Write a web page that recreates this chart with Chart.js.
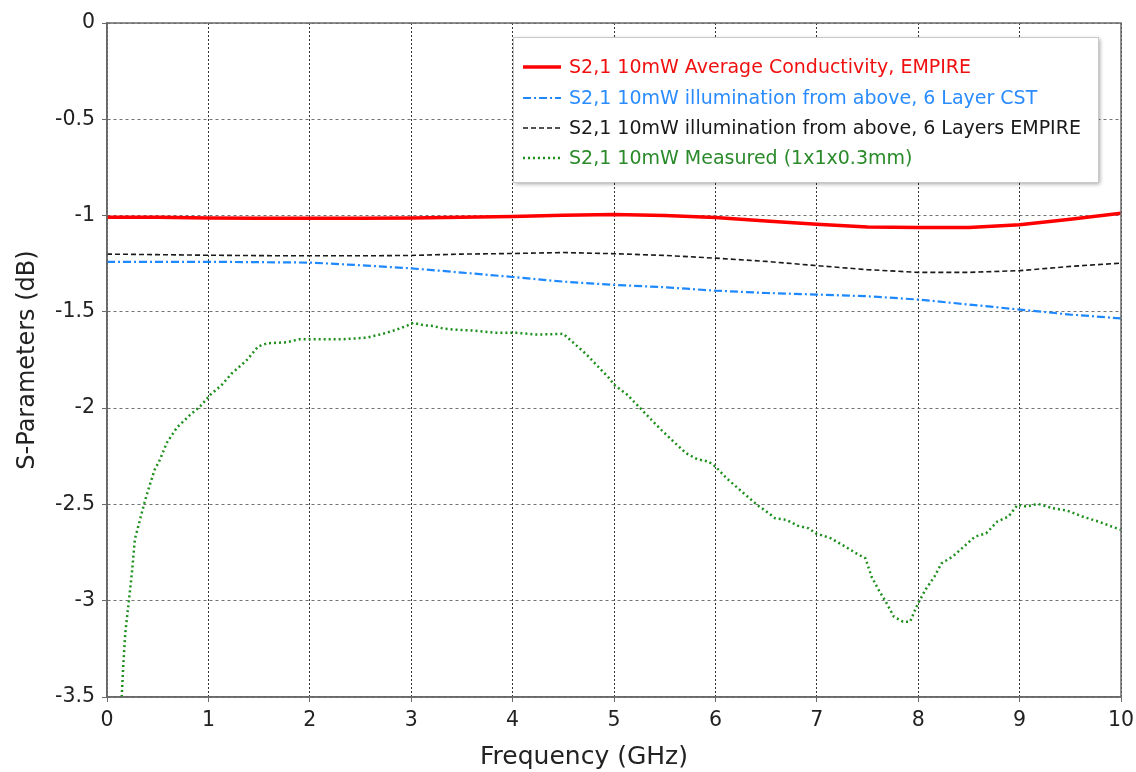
<!DOCTYPE html>
<html>
<head>
<meta charset="utf-8">
<script src="https://cdn.jsdelivr.net/npm/chart.js@4/dist/chart.umd.min.js"></script>
<style>
html,body{margin:0;padding:0;background:#fff;}
#wrap{width:1136px;height:772px;position:relative;}
</style>
</head>
<body>
<div id="wrap"><canvas id="c" width="1136" height="772"></canvas></div>
<script>
// ---------- data ----------
const seriesLabels = [
  'S2,1 10mW Average Conductivity, EMPIRE',
  'S2,1 10mW illumination from above, 6 Layer CST',
  'S2,1 10mW illumination from above, 6 Layers EMPIRE',
  'S2,1 10mW Measured (1x1x0.3mm)'
];
const xAxisTitle = 'Frequency (GHz)';
const yAxisTitle = 'S-Parameters (dB)';
const xTickValues = [0,1,2,3,4,5,6,7,8,9,10];
const yTickValues = [0,-0.5,-1,-1.5,-2,-2.5,-3,-3.5];
const yTickLabels = ['0','-0.5','-1','-1.5','-2','-2.5','-3','-3.5'];

const simFreq = [0,0.5,1,1.5,2,2.5,3,3.5,4,4.5,5,5.5,6,6.5,7,7.5,8,8.5,9,9.5,10];
const redY   = [-1.009,-1.009,-1.012,-1.014,-1.014,-1.014,-1.012,-1.009,-1.005,-0.998,-0.995,-1.0,-1.01,-1.028,-1.045,-1.059,-1.062,-1.062,-1.048,-1.019,-0.988];
const blueY  = [-1.24,-1.24,-1.24,-1.242,-1.244,-1.258,-1.274,-1.296,-1.319,-1.343,-1.36,-1.372,-1.39,-1.402,-1.41,-1.419,-1.436,-1.462,-1.488,-1.514,-1.534];
const blackY = [-1.2,-1.203,-1.206,-1.208,-1.209,-1.209,-1.207,-1.2,-1.197,-1.192,-1.198,-1.207,-1.221,-1.238,-1.26,-1.281,-1.295,-1.295,-1.286,-1.264,-1.247];

const measFreq = [0.145,0.16,0.18,0.22,0.245,0.275,0.325,0.37,0.415,0.47,0.52,0.59,0.69,0.82,0.92,1.02,1.13,1.23,1.38,1.49,1.58,1.77,1.9,2.1,2.33,2.56,2.72,2.84,2.95,3.02,3.12,3.22,3.32,3.42,3.6,3.84,4.04,4.24,4.5,4.62,4.73,4.84,4.95,5.0,5.13,5.24,5.35,5.46,5.6,5.71,5.82,5.93,6.0,6.11,6.26,6.41,6.48,6.59,6.7,6.81,6.92,6.99,7.14,7.28,7.39,7.48,7.54,7.61,7.68,7.76,7.85,7.92,7.99,8.07,8.16,8.23,8.34,8.45,8.56,8.67,8.78,8.89,8.98,9.07,9.18,9.33,9.47,9.62,9.76,9.91,10.0];
const measY = [-3.5,-3.34,-3.17,-2.98,-2.86,-2.68,-2.58,-2.49,-2.41,-2.32,-2.27,-2.18,-2.1,-2.035,-1.99,-1.93,-1.88,-1.82,-1.75,-1.68,-1.663,-1.658,-1.642,-1.642,-1.642,-1.634,-1.614,-1.595,-1.574,-1.557,-1.569,-1.574,-1.587,-1.592,-1.597,-1.609,-1.609,-1.618,-1.614,-1.67,-1.722,-1.783,-1.843,-1.878,-1.93,-1.99,-2.05,-2.11,-2.18,-2.234,-2.265,-2.277,-2.303,-2.364,-2.433,-2.502,-2.528,-2.572,-2.58,-2.61,-2.624,-2.65,-2.676,-2.719,-2.754,-2.78,-2.875,-2.944,-3.005,-3.083,-3.109,-3.109,-3.023,-2.944,-2.875,-2.806,-2.771,-2.719,-2.667,-2.65,-2.589,-2.563,-2.502,-2.511,-2.497,-2.52,-2.532,-2.563,-2.586,-2.615,-2.632];

// ---------- styles ----------
const styles = [
  {color:'#ff0000', text:'#f01010', width:3.5, dash:[]},
  {color:'#1e88ff', text:'#2a8cff', width:2.2, dash:[8,3,2,3]},
  {color:'#1a1a1a', text:'#1a1a1a', width:1.6, dash:[5,3]},
  {color:'#1d8f1d', text:'#2a8a2a', width:2.5, dash:[2,3]}
];

function pts(xs, ys){ return xs.map((x,i)=>({x:x, y:ys[i]})); }

const datasets = [
  {label:seriesLabels[0], data:pts(simFreq, redY)},
  {label:seriesLabels[1], data:pts(simFreq, blueY)},
  {label:seriesLabels[2], data:pts(simFreq, blackY)},
  {label:seriesLabels[3], data:pts(measFreq, measY)}
].map((d,i)=>Object.assign(d,{
  showLine:true, borderColor:styles[i].color, backgroundColor:styles[i].color,
  borderWidth:styles[i].width, borderDash:styles[i].dash, borderCapStyle:'butt', pointRadius:0,
  tension:0, fill:false, order:4-i
}));

const FONT = 'DejaVu Sans';

const framePlugin = {
  id:'frame',
  afterDatasetsDraw(chart){
    const {ctx, chartArea:a} = chart;
    ctx.save();
    ctx.strokeStyle = '#6a6a6a';
    ctx.lineWidth = 1.5;
    ctx.setLineDash([]);
    ctx.strokeRect(a.left, a.top, a.right-a.left, a.bottom-a.top);
    ctx.restore();
  }
};

const xTitlePlugin = {
  id:'xTitle',
  afterDraw(chart){
    const ctx = chart.ctx;
    ctx.save();
    ctx.font = '25px "'+FONT+'"';
    ctx.fillStyle = '#222';
    ctx.textAlign = 'center';
    ctx.textBaseline = 'middle';
    ctx.fillText(xAxisTitle, 584, 757);
    ctx.restore();
  }
};

const legendPlugin = {
  id:'boxLegend',
  afterDraw(chart){
    const ctx = chart.ctx;
    const bx=513, by=37, bw=585, bh=145;
    ctx.save();
    ctx.shadowColor='rgba(0,0,0,0.35)';
    ctx.shadowBlur=4; ctx.shadowOffsetX=2; ctx.shadowOffsetY=2;
    ctx.fillStyle='#fff';
    ctx.fillRect(bx,by,bw,bh);
    ctx.restore();
    ctx.save();
    ctx.strokeStyle='#c8c8c8'; ctx.lineWidth=1;
    ctx.strokeRect(bx+0.5,by+0.5,bw,bh);
    const rows=[67,98,128,158];
    ctx.font = '19px "'+FONT+'"';
    ctx.textBaseline='middle';
    ctx.textAlign='left';
    chart.data.datasets.forEach((ds,i)=>{
      const y=rows[i];
      ctx.beginPath();
      ctx.strokeStyle=styles[i].color;
      ctx.lineWidth=styles[i].width;
      ctx.setLineDash(styles[i].dash);
      ctx.moveTo(523,y); ctx.lineTo(561,y); ctx.stroke();
      ctx.setLineDash([]);
      ctx.fillStyle=styles[i].text;
      ctx.fillText(ds.label, 569, y+1);
    });
    ctx.restore();
  }
};

new Chart(document.getElementById('c'), {
  type:'scatter',
  data:{datasets:datasets},
  options:{
    responsive:false, animation:false, devicePixelRatio:1,
    layout:{padding:{left:0, top:23, right:15, bottom:0}},
    plugins:{legend:{display:false}, tooltip:{enabled:false}},
    scales:{
      x:{
        type:'linear', min:0, max:10,
        afterBuildTicks(s){ s.ticks = xTickValues.map(v=>({value:v})); },
        afterFit(s){ s.height = 75; s.paddingLeft = 0; s.paddingRight = 0; },
        ticks:{color:'#222', font:{family:FONT, size:20.5}, padding:6, maxRotation:0, autoSkip:false},
        grid:{color:'rgba(30,30,30,0.9)', lineWidth:1, tickColor:'#6a6a6a', tickLength:5, tickBorderDash:[]},
        border:{display:true, color:'#6a6a6a', width:1.5, dash:[2,2]}
      },
      y:{
        type:'linear', min:-3.5, max:0,
        afterBuildTicks(s){ s.ticks = yTickValues.map(v=>({value:v})); },
        afterFit(s){ s.width = 107; s.paddingTop = 0; s.paddingBottom = 0; },
        ticks:{color:'#222', font:{family:FONT, size:20.5}, padding:7,
          callback:(v)=>{ const i=yTickValues.indexOf(v); return i>=0?yTickLabels[i]:''; }},
        grid:{color:'rgba(100,100,100,0.9)', lineWidth:1, tickColor:'#6a6a6a', tickLength:5, tickBorderDash:[]},
        border:{display:true, color:'#6a6a6a', width:1.5, dash:[3,3]},
        title:{display:true, text:yAxisTitle, color:'#222', font:{family:FONT, size:24}, padding:{top:13,bottom:0}}
      }
    }
  },
  plugins:[framePlugin, xTitlePlugin, legendPlugin]
});
</script>
</body>
</html>
